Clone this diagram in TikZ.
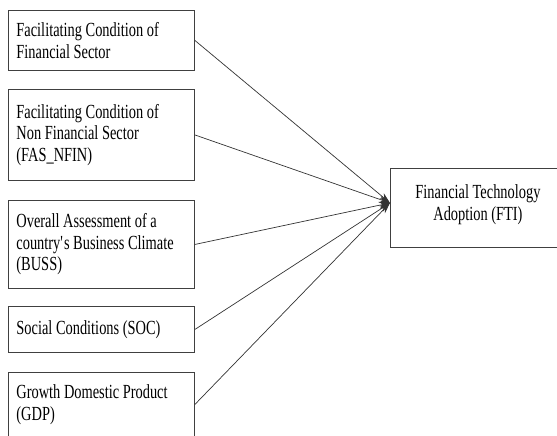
\documentclass[tikz,border=0pt]{standalone}
\usepackage{fontspec}
\setmainfont{Liberation Serif}[FakeStretch=0.72]
\usepackage{tikz}
\usetikzlibrary{arrows.meta}
\tikzset{factor/.style={draw=black!75, line width=0.9pt, anchor=north west, text width=170pt, inner xsep=8pt, align=flush left}}
\tikzset{link/.style={draw=black!80, line width=0.7pt, -{Stealth[length=11pt,width=7pt]}}}

\begin{document}
\begin{tikzpicture}[x=1pt, y=-1pt]
	% Default action for each node
	\tikzstyle{every node}=[font=\fontsize{20}{21.5}\selectfont];

	\clip (0,0) rectangle (557,436);

	% LHS
	\node[factor, minimum height=60pt] (fin) at (8,10) {Facilitating Condition of\\Financial Sector};
	\node[factor, minimum height=91pt] (nfin) at (8,89) {Facilitating Condition of\\Non Financial Sector\\(FAS\_NFIN)};
	\node[factor, minimum height=88pt] (buss) at (8,200) {Overall Assessment of a\\country\textquotesingle s Business Climate\\(BUSS)};
	\node[factor, minimum height=46pt] (soc) at (8,306) {Social Conditions (SOC)};
	\node[factor, minimum height=64pt] (gdp) at (8,372) {Growth Domestic Product\\(GDP)};

	% RHS
	\node[draw=black!75, line width=0.9pt, anchor=north west, minimum width=175pt, minimum height=79pt, align=center] (fti) at (390,168) {Financial Technology\\Adoption (FTI)\\[-11pt]};
	\coordinate (hub) at ([yshift=5pt]fti.west);

	% Arrows
	\draw[link] (fin.east) -- (hub);
	\draw[link] (nfin.east) -- (hub);
	\draw[link] (buss.east) -- (hub);
	\draw[link] (soc.east) -- (hub);
	\draw[link] (gdp.east) -- (hub);
\end{tikzpicture}
\end{document}
